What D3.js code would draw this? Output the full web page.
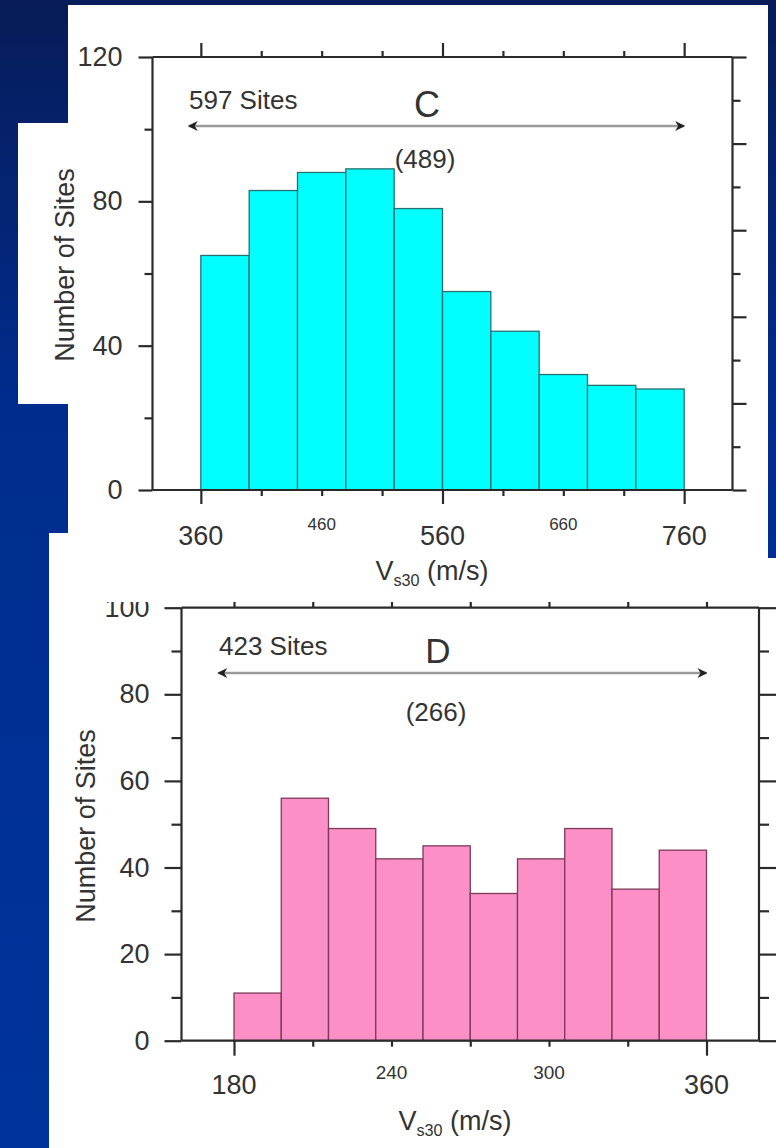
<!DOCTYPE html>
<html><head><meta charset="utf-8">
<script src="https://cdn.jsdelivr.net/npm/d3@7"></script>
<style>
html,body{margin:0;padding:0;background:#002a8a;}
svg{display:block;}
text{font-family:"Liberation Sans",Arial,Helvetica,sans-serif;fill:#333;}
</style></head>
<body>
<svg id="chart" width="776" height="1148"></svg>
<script>
// ---------- data ----------
const cEdges = [360,400,440,480,520,560,600,640,680,720,760];
const cCounts = [65,83,88,89,78,55,44,32,29,28];
const cYLabels = [0,40,80,120];
const cYMinor = [20,60,100];
const cXTicks = [360,410,460,510,560,610,660,710,760];
const cXMajor = [360,560,760];
const cXMinorLabels = [460,660];

const dEdges = [180,198,216,234,252,270,288,306,324,342,360];
const dCounts = [11,56,49,42,45,34,42,49,35,44];
const dYLabels = [0,20,40,60,80,100];
const dYMinor = [10,30,50,70,90];
const dXTicks = [180,210,240,270,300,330,360];
const dXMajor = [180,360];
const dXMinorLabels = [240,300];

const svg = d3.select("#chart");
const defs = svg.append("defs");
const grad = defs.append("linearGradient").attr("id","bg").attr("x1",0).attr("y1",0).attr("x2",0).attr("y2",1);
grad.append("stop").attr("offset","0%").attr("stop-color","#071c58");
grad.append("stop").attr("offset","35%").attr("stop-color","#002c8e");
grad.append("stop").attr("offset","100%").attr("stop-color","#00349c");
svg.append("rect").attr("width",776).attr("height",1148).attr("fill","url(#bg)");

// white panels
svg.append("rect").attr("x",68).attr("y",5).attr("width",700).attr("height",528).attr("fill","#fff");
svg.append("rect").attr("x",18).attr("y",123).attr("width",50).attr("height",281).attr("fill","#fff");
svg.append("rect").attr("x",49).attr("y",533).attr("width",719).attr("height",615).attr("fill","#fff");
svg.append("rect").attr("x",768).attr("y",558).attr("width",8).attr("height",590).attr("fill","#fff");

// arrow markers
function marker(id, orient){
  defs.append("marker").attr("id",id).attr("viewBox","0 0 12 12").attr("refX",orient==="end"?10:2).attr("refY",6)
    .attr("markerWidth",12).attr("markerHeight",12).attr("markerUnits","userSpaceOnUse").attr("orient","auto")
    .append("path").attr("d", orient==="end" ? "M1,1 L11,6 L1,11 L4,6 Z" : "M11,1 L1,6 L11,11 L8,6 Z").attr("fill","#222");
}
marker("arrEnd","end"); marker("arrStart","start");

defs.append("clipPath").attr("id","clipD").append("rect").attr("x",0).attr("y",602).attr("width",776).attr("height",546);

function drawChart(cfg){
  const g = svg.append("g");
  if (cfg.clip) g.attr("clip-path","url(#" + cfg.clip + ")");
  const x = d3.scaleLinear().domain(cfg.xFrame).range(cfg.xRange);
  const y = d3.scaleLinear().domain([0,cfg.yMax]).range(cfg.yRange);
  const y2 = d3.scaleLinear().domain([0,10]).range(cfg.yRange);
  const data = cfg.counts.map((c,i)=>({x0:cfg.edges[i], x1:cfg.edges[i+1], c}));

  // bars
  g.selectAll("rect.bar").data(data).join("rect").attr("class","bar")
    .attr("x", d=>x(d.x0)).attr("width", d=>x(d.x1)-x(d.x0))
    .attr("y", d=>y(d.c)).attr("height", d=>y(0)-y(d.c))
    .attr("fill", cfg.fill).attr("stroke", cfg.stroke).attr("stroke-width",1.3);

  const axisStyle = sel => { sel.select(".domain").remove(); sel.selectAll("line").attr("stroke","#2a2a2a").attr("stroke-width",2.2); };
  const L = cfg.xRange[0], R = cfg.xRange[1];

  // left axis (major with labels)
  g.append("g").attr("transform",`translate(${L},0)`)
    .call(d3.axisLeft(y).tickValues(cfg.yLabels).tickSize(cfg.tMaj).tickPadding(cfg.yPad).tickFormat(d3.format("d")))
    .call(axisStyle)
    .call(s=>s.selectAll("text").attr("font-size",cfg.yFont).attr("fill","#333").attr("font-family","Liberation Sans, Arial"));
  g.append("g").attr("transform",`translate(${L},0)`)
    .call(d3.axisLeft(y).tickValues(cfg.yMinor).tickSize(cfg.tMin).tickFormat(""))
    .call(axisStyle);
  // right axis
  g.append("g").attr("transform",`translate(${R},0)`)
    .call(d3.axisRight(y2).tickValues(d3.range(0,11)).tickSize(cfg.tMaj).tickFormat(""))
    .call(axisStyle)
    .call(s=>s.selectAll(".tick line").attr("x2", d=> d%2===0 ? cfg.tMaj : cfg.tMin));
  // bottom axis ticks
  g.append("g").attr("transform",`translate(0,${cfg.yRange[0]})`)
    .call(d3.axisBottom(x).tickValues(cfg.xTicks).tickSize(cfg.bMaj).tickFormat(""))
    .call(axisStyle)
    .call(s=>s.selectAll(".tick line").attr("y2", d=> cfg.xMajor.includes(d) ? cfg.bMaj : cfg.bMin));
  // top axis ticks
  g.append("g").attr("transform",`translate(0,${cfg.yRange[1]})`)
    .call(d3.axisTop(x).tickValues(cfg.xTicks).tickSize(cfg.bMaj).tickFormat(""))
    .call(axisStyle)
    .call(s=>s.selectAll(".tick line").attr("y2", d=> cfg.xMajor.includes(d) ? -cfg.bMaj : -cfg.bMin));

  // frame
  const frame = [[L,cfg.yRange[1],L,cfg.yRange[0]],[R,cfg.yRange[1],R,cfg.yRange[0]],
                 [L,cfg.yRange[0],R,cfg.yRange[0]],[L,cfg.yRange[1],R,cfg.yRange[1]]];
  g.selectAll("line.frame").data(frame).join("line").attr("class","frame")
    .attr("x1",d=>d[0]).attr("y1",d=>d[1]).attr("x2",d=>d[2]).attr("y2",d=>d[3])
    .attr("stroke","#2a2a2a").attr("stroke-width",2.2);

  // x labels
  g.selectAll("text.xmaj").data(cfg.xMajor).join("text").attr("class","xmaj")
    .attr("x",d=>x(d)).attr("y",cfg.xLabY).attr("text-anchor","middle").attr("dominant-baseline","central")
    .attr("font-size",cfg.xFont).text(d=>d);
  g.selectAll("text.xmin").data(cfg.xMinorLabels).join("text").attr("class","xmin")
    .attr("x",d=>x(d)).attr("y",cfg.xLabY2).attr("text-anchor","middle").attr("dominant-baseline","central")
    .attr("font-size",cfg.xFont2).attr("fill","#444").text(d=>d);

  // x title
  const xt = g.append("text").attr("x",cfg.xtX).attr("y",cfg.xtY).attr("text-anchor","middle").attr("font-size",cfg.titleFont);
  xt.append("tspan").text("V");
  xt.append("tspan").attr("font-size",cfg.titleFont*0.6).attr("dy",6).text("s30");
  xt.append("tspan").attr("dy",-6).text(" (m/s)");

  // y title
  g.append("text").attr("transform",`translate(${cfg.ytX},${cfg.ytY}) rotate(-90)`)
    .attr("text-anchor","middle").attr("font-size",cfg.titleFont).text("Number of Sites");

  // annotations
  g.append("text").attr("x",cfg.sitesX).attr("y",cfg.sitesY).attr("font-size",cfg.annFont).text(cfg.sitesText);
  g.append("text").attr("x",cfg.letterX).attr("y",cfg.letterY).attr("text-anchor","middle").attr("font-size",cfg.letterFont).attr("fill","#222").text(cfg.letter);
  g.append("text").attr("x",cfg.meanX).attr("y",cfg.meanY).attr("text-anchor","middle").attr("font-size",cfg.meanFont).text(cfg.meanText);
  g.append("line").attr("x1",x(cfg.arrow[0])).attr("x2",x(cfg.arrow[1])).attr("y1",cfg.arrowY).attr("y2",cfg.arrowY)
    .attr("stroke","#9a9a9a").attr("stroke-width",2.5)
    .attr("marker-start","url(#arrStart)").attr("marker-end","url(#arrEnd)");
}

drawChart({
  edges:cEdges, counts:cCounts, fill:"#00ffff", stroke:"#2a7070",
  xFrame:[320,800], xRange:[152.5,732.5], yMax:120, yRange:[490,57],
  yLabels:cYLabels, yMinor:cYMinor, xTicks:cXTicks, xMajor:cXMajor, xMinorLabels:cXMinorLabels,
  tMaj:14, tMin:8, bMaj:14, bMin:6, yPad:16, yFont:27,
  xLabY:536, xLabY2:524, xFont:27, xFont2:17,
  xtX:432, xtY:580, titleFont:27, ytX:74, ytY:265,
  sitesX:189, sitesY:109, sitesText:"597 Sites", annFont:26,
  letterX:427, letterY:117, letter:"C", letterFont:36,
  meanX:425, meanY:168, meanText:"(489)", meanFont:26,
  arrow:[350,760], arrowY:126
});

drawChart({
  edges:dEdges, counts:dCounts, fill:"#fc90c6", stroke:"#7a3a5a", clip:"clipD",
  xFrame:[160,380], xRange:[181.5,759], yMax:100, yRange:[1040.7,607.7],
  yLabels:dYLabels, yMinor:dYMinor, xTicks:dXTicks, xMajor:dXMajor, xMinorLabels:dXMinorLabels,
  tMaj:17, tMin:10, bMaj:15, bMin:6, yPad:15, yFont:27,
  xLabY:1085, xLabY2:1072, xFont:27, xFont2:19,
  xtX:455, xtY:1130, titleFont:27, ytX:95, ytY:826,
  sitesX:219, sitesY:655, sitesText:"423 Sites", annFont:26,
  letterX:438, letterY:663, letter:"D", letterFont:35,
  meanX:436, meanY:721, meanText:"(266)", meanFont:26,
  arrow:[174,360], arrowY:673
});
</script>
</body></html>
